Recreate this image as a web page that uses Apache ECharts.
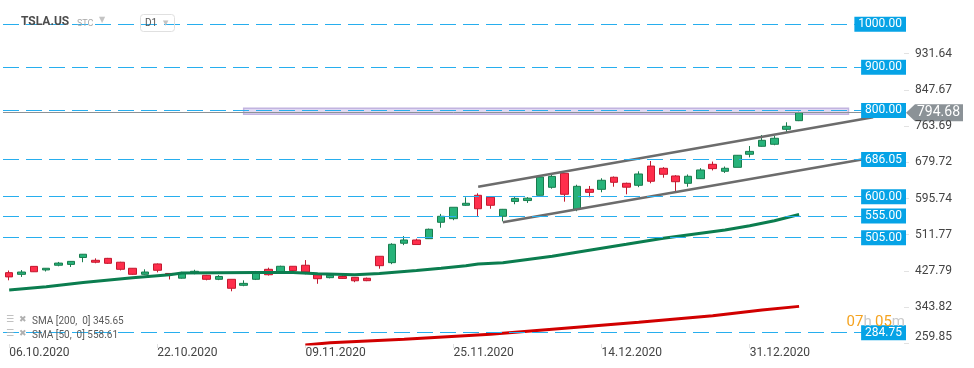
<!DOCTYPE html>
<html><head><meta charset="utf-8">
<script src="https://cdn.jsdelivr.net/npm/echarts@6/dist/echarts.min.js"></script>
<style>html,body{margin:0;padding:0;background:#fff;}#c{width:974px;height:368px;}</style>
</head><body><div id="c"></div>
<script>
const dates = ['06.10.2020','07.10.2020','08.10.2020','09.10.2020','12.10.2020','13.10.2020','14.10.2020','15.10.2020','16.10.2020','19.10.2020','20.10.2020','21.10.2020','22.10.2020','23.10.2020','26.10.2020','27.10.2020','28.10.2020','29.10.2020','30.10.2020',
'02.11.2020','03.11.2020','04.11.2020','05.11.2020','06.11.2020','09.11.2020','10.11.2020','11.11.2020','12.11.2020','13.11.2020','16.11.2020','17.11.2020','18.11.2020','19.11.2020','20.11.2020','23.11.2020','24.11.2020','25.11.2020','27.11.2020','30.11.2020',
'01.12.2020','02.12.2020','03.12.2020','04.12.2020','07.12.2020','08.12.2020','09.12.2020','10.12.2020','11.12.2020','14.12.2020','15.12.2020','16.12.2020','17.12.2020','18.12.2020','21.12.2020','22.12.2020','23.12.2020','24.12.2020','28.12.2020','29.12.2020','30.12.2020','31.12.2020',
'04.01.2021','05.01.2021','06.01.2021','07.01.2021'];
const opens  = [423.8,419.9,438.4,430.1,441.0,443.0,459.0,452.5,457.0,448.0,434.0,420.0,444.0,422.0,411.0,424.0,417.7,408.4,408.4,394.5,408.4,431.6,425.4,438.6,441.0,419.0,412.2,415.0,413.0,410.8,461.8,447.0,492.0,499.6,502.6,540.6,549.0,580.0,603.2,598.6,554.5,589.0,591.0,603.2,621.7,654.2,570.7,617.0,617.0,645.0,631.0,626.4,671.0,665.8,648.0,631.0,641.7,675.0,658.9,668.0,698.3,716.8,721.5,756.2,776.2];
const closes = [414.0,425.3,425.9,434.0,446.0,450.0,466.5,448.0,445.5,431.6,420.0,425.3,429.3,421.0,422.0,427.0,408.4,415.0,387.6,399.0,422.0,419.0,438.6,428.4,425.4,409.8,417.7,410.5,405.0,405.2,440.0,489.6,499.6,489.0,524.4,554.5,575.4,584.7,572.0,580.0,570.7,596.0,596.5,645.6,647.0,605.5,624.0,610.0,638.0,633.3,622.0,652.6,635.7,651.9,634.7,647.3,661.9,665.0,665.8,696.0,705.0,730.7,735.4,763.2,794.68];
const lows   = [406.1,413.9,425.3,426.5,438.6,437.0,448.0,445.6,444.0,429.0,419.0,419.0,424.5,408.0,410.0,420.1,406.0,406.5,380.6,392.3,406.7,417.1,424.0,424.3,420.0,398.0,410.6,409.5,401.7,404.1,433.0,443.5,487.6,489.0,501.8,528.0,545.4,578.5,555.0,572.0,543.0,582.4,585.5,603.0,618.5,588.4,566.3,598.6,610.2,623.1,605.5,622.0,631.0,644.0,613.2,623.0,641.0,660.8,655.0,668.0,691.1,716.0,719.2,749.3,775.2];
const highs  = [428.8,429.9,439.0,434.6,448.7,450.5,467.0,457.0,458.0,449.0,434.5,431.6,445.2,423.0,425.8,430.5,418.6,418.1,408.4,406.0,427.8,435.4,440.0,439.0,453.0,420.1,418.7,418.0,413.0,412.4,462.0,492.0,508.6,502.5,526.0,560.0,575.4,598.6,607.8,598.8,571.5,599.0,599.0,648.8,651.3,654.3,627.7,624.8,642.7,646.9,632.5,658.8,682.7,668.5,649.9,651.5,666.1,681.4,669.9,696.6,717.5,743.0,740.8,772.5,797.0];
// moving averages read at candle indices [index, value]
const sma50Points  = [[0,383.6],[3,391],[6,401],[10,412],[13,419],[14,423],[20,424],[23,424],[25,421],[28,419],[30,422],[33,429],[35,434],[37,440],[38,444],[40,447],[44,462],[47,476],[50,489.6],[53,503.5],[58,522.7],[60,532.7],[62,544.3],[64,558.61]];
const sma200Points = [[24,256],[26,261.5],[32,269.3],[39,281],[45,294.8],[51,308.7],[57,324],[61,337.2],[64,345.65]];
const levels = [1000, 900, 800, 686.05, 600, 555, 505, 284.75];
const lastPrice = 794.68;
const yTicks = [259.85, 343.82, 427.79, 511.77, 595.74, 679.72, 763.69, 847.67, 931.64];
const channelUpper = [[38, 623.1], [70, 784.1]];
const channelLower = [[40, 540.6], [72, 700.6]];
const zoneX = [19, 68];
const zoneY = [791, 805];
const xLabelEvery = 12;
const emptySlots = 8;
const legendRows = ['SMA [200,  0] 345.65', 'SMA [50,  0] 558.61'];
const timerParts = ['07', 'h', '05', 'm'];

const candles = opens.map((o, i) => [o, closes[i], lows[i], highs[i]]);
const cats = dates.concat(Array(emptySlots).fill(''));
const labelIdx = (i) => i % xLabelEvery === 0 && i < dates.length;

const chart = echarts.init(document.getElementById('c'), null, {renderer: 'canvas'});
const blue = '#27aeee';
const tagGray = '#8b9297';
const levelData = levels.map(v => ({
  yAxis: v,
  lineStyle: {color: blue, type: [16, 7], width: 1.2},
  label: {
    show: true, position: 'insideEnd', distance: [-2, 0],
    formatter: v.toFixed(2), color: '#fff', backgroundColor: '#06a3e6',
    fontFamily: 'Roboto', fontSize: 12, lineHeight: 13, padding: [1, 4, 1, 4]
  }
}));
levelData.push({
  yAxis: lastPrice,
  lineStyle: {color: tagGray, type: 'solid', width: 1},
  label: {show: false}
});

const baseGraphics = [
  {type: 'text', left: 21, top: 16, z: 10, style: {text: 'TSLA.US', font: 'bold 12px Roboto', fill: '#4d4d4d'}},
  {type: 'text', left: 77, top: 19, z: 10, style: {text: 'STC', font: '9px Roboto', fill: '#a8a8a8'}},
  {type: 'text', left: 99, top: 16, z: 10, style: {text: '▼', font: '8px "DejaVu Sans"', fill: '#c4c4c4'}},
  {type: 'rect', z: 10, shape: {x: 140.5, y: 14.5, width: 34, height: 17, r: 3}, style: {fill: 'none', stroke: '#e0e0e0', lineWidth: 1}},
  {type: 'text', left: 145, top: 18, z: 10, style: {text: 'D1', font: '10px Roboto', fill: '#555'}},
  {type: 'text', left: 163, top: 20, z: 10, style: {text: '▼', font: '7px "DejaVu Sans"', fill: '#c4c4c4'}},
  {type: 'text', left: 6, top: 315, z: 10, style: {text: '☰', font: 'bold 9px "DejaVu Sans"', fill: '#b0b0b0'}},
  {type: 'text', left: 19, top: 315, z: 10, style: {text: '✖', font: '9px "DejaVu Sans"', fill: '#b0b0b0'}},
  {type: 'text', left: 32, top: 316, z: 10, style: {text: legendRows[0], font: '10px Roboto', fill: '#5a5a5a'}},
  {type: 'text', left: 6, top: 329, z: 10, style: {text: '☰', font: 'bold 9px "DejaVu Sans"', fill: '#b0b0b0'}},
  {type: 'text', left: 19, top: 329, z: 10, style: {text: '✖', font: '9px "DejaVu Sans"', fill: '#b0b0b0'}},
  {type: 'text', left: 32, top: 330, z: 10, style: {text: legendRows[1], font: '10px Roboto', fill: '#5a5a5a'}},
  {type: 'text', right: 69, top: 315, z: 10, style: {
    text: '{o|' + timerParts[0] + '}{g|' + timerParts[1] + '} {o|' + timerParts[2] + '}{g|' + timerParts[3] + '}',
    rich: {o: {fill: '#f5a31f', fontSize: 15, fontFamily: 'Roboto'}, g: {fill: '#c9c9c9', fontSize: 15, fontFamily: 'Roboto'}}
  }}
];

chart.setOption({
  animation: false,
  backgroundColor: '#fff',
  grid: {left: 3, right: 70, top: 0, bottom: 24, containLabel: false},
  xAxis: {
    type: 'category', data: cats, boundaryGap: true,
    axisLine: {show: false},
    axisTick: {show: true, alignWithLabel: true, interval: labelIdx, length: 4, lineStyle: {color: '#e2e2e2'}},
    axisLabel: {interval: labelIdx, align: 'left', margin: 3, color: '#444', fontFamily: 'Roboto', fontSize: 12},
    splitLine: {show: false}
  },
  yAxis: {
    type: 'value', position: 'right', min: 258.4, max: 1056, scale: true,
    axisLine: {show: false},
    splitLine: {show: false},
    axisTick: {show: true, customValues: yTicks, length: 5, lineStyle: {color: '#e2e2e2'}},
    axisLabel: {
      customValues: yTicks, margin: 11, color: '#444', fontFamily: 'Roboto', fontSize: 12,
      formatter: v => v === yTicks[0] ? '{low|' + v.toFixed(2) + '}' : v.toFixed(2),
      rich: {low: {color: '#444', fontFamily: 'Roboto', fontSize: 12, padding: [0, 0, 12, 0]}}
    }
  },
  series: [
    {
      type: 'candlestick', name: 'TSLA.US', data: candles, barWidth: 8,
      itemStyle: {color: '#27b37a', color0: '#ff2e4c', borderColor: '#187c4e', borderColor0: '#c3182e', borderWidth: 1},
      markLine: {silent: true, symbol: ['none', 'none'], data: levelData, z: 5},
      markArea: {
        silent: true,
        itemStyle: {color: 'rgba(200,185,232,0.55)', borderColor: '#c2b4e0', borderWidth: 1.5},
        data: [[{coord: [zoneX[0], zoneY[1]]}, {coord: [zoneX[1], zoneY[0]]}]]
      }
    },
    {type: 'line', name: 'SMA50', data: sma50Points, symbol: 'none', smooth: false, z: 3,
     lineStyle: {color: '#0b7d4f', width: 3}},
    {type: 'line', name: 'SMA200', data: sma200Points, symbol: 'none', z: 3, clip: true,
     lineStyle: {color: '#d10000', width: 3}},
    {type: 'line', name: 'upper', data: channelUpper, symbol: 'none', z: 4,
     lineStyle: {color: '#6c6c6c', width: 2.5}},
    {type: 'line', name: 'lower', data: channelLower, symbol: 'none', z: 4,
     lineStyle: {color: '#6c6c6c', width: 2.5}}
  ],
  graphic: baseGraphics
});

// price tag on the right axis, placed at the last price through the y scale
const tagY = chart.convertToPixel({yAxisIndex: 0}, lastPrice);
const tagX = chart.getWidth() - 70 + 2;
chart.setOption({
  graphic: baseGraphics.concat([{
    type: 'group', x: tagX, y: tagY, z: 20,
    children: [
      {type: 'polygon', shape: {points: [[0, 0], [9, -8.5], [57, -8.5], [57, 8.5], [9, 8.5]]}, style: {fill: tagGray}},
      {type: 'text', x: 11, y: 0, style: {text: lastPrice.toFixed(2), fill: '#fff', font: '14px Roboto', verticalAlign: 'middle', align: 'left'}}
    ]
  }])
});
</script></body></html>
